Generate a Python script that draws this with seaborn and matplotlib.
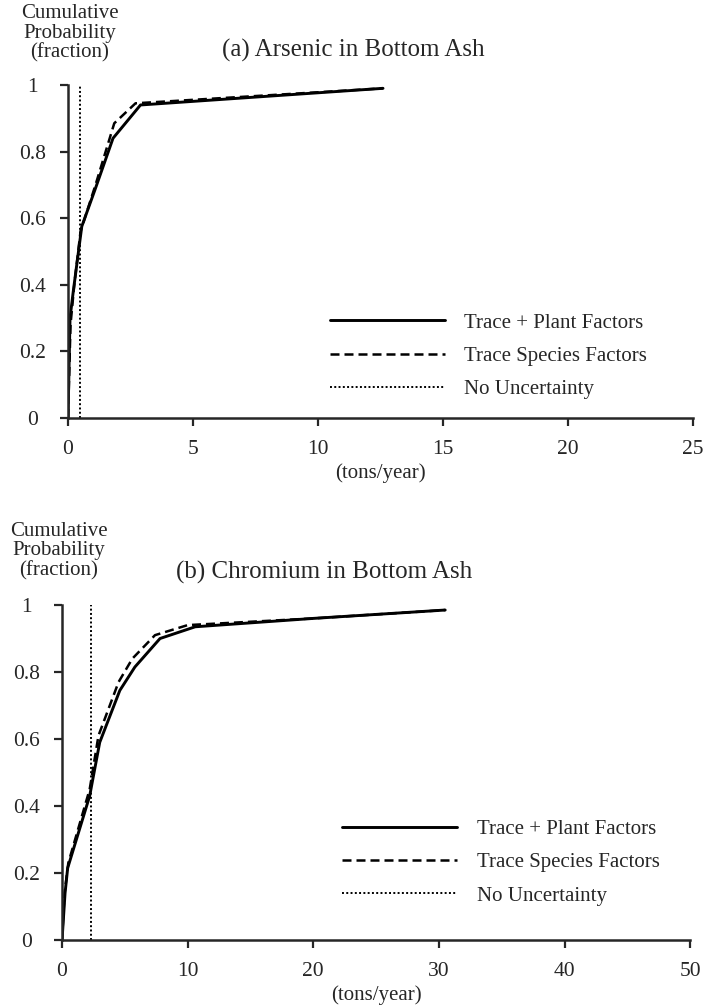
import matplotlib
matplotlib.use("Agg")
import matplotlib.pyplot as plt
import seaborn as sns
import pandas as pd

# (a) Arsenic in bottom ash, tons/year vs cumulative probability
as_plant_x = [0.0, 0.08, 0.21, 0.55, 1.1, 1.8, 2.9, 12.6]
as_plant_y = [0.0, 0.30, 0.38, 0.575, 0.69, 0.84, 0.94, 0.99]
as_species_x = [0.0, 0.1, 0.25, 0.5, 1.1, 1.85, 2.7, 12.6]
as_species_y = [0.0, 0.28, 0.40, 0.56, 0.70, 0.885, 0.945, 0.99]
as_point_x = [0.46, 0.46]
as_point_y = [0.0, 1.0]

# (b) Chromium in bottom ash
cr_plant_x = [0.0, 0.24, 0.45, 2.2, 3.0, 4.6, 5.8, 7.8, 10.6, 20.0, 30.5]
cr_plant_y = [0.0, 0.14, 0.215, 0.43, 0.59, 0.745, 0.815, 0.90, 0.935, 0.96, 0.985]
cr_species_x = [0.0, 0.2, 0.5, 2.2, 2.9, 4.5, 5.6, 7.4, 10.0, 20.0, 30.5]
cr_species_y = [0.0, 0.14, 0.23, 0.45, 0.61, 0.77, 0.84, 0.91, 0.94, 0.96, 0.985]
cr_point_x = [2.3, 2.3]
cr_point_y = [0.0, 1.0]

labels = ["Trace + Plant Factors", "Trace Species Factors", "No Uncertainty"]
yticks = [0, 0.2, 0.4, 0.6, 0.8, 1]

sns.set_style("ticks")
plt.rcParams["font.family"] = ["Liberation Serif", "DejaVu Serif"]
plt.rcParams["axes.linewidth"] = 1.8
plt.rcParams["xtick.major.width"] = 1.6
plt.rcParams["ytick.major.width"] = 1.6
plt.rcParams["xtick.major.size"] = 5.8
plt.rcParams["ytick.major.size"] = 5.8

fig = plt.figure(figsize=(7.13, 10.07), dpi=100)


def fmt(v):
    return f"{v:g}"


def panel(rect, title, title_xy, ylab_xy, xs, ys, xmax, xticks, legend_xy):
    ax = fig.add_axes(rect)
    styles = [("-", 2.1), ((0, (3.6, 2.0)), 1.8), ((0, (1, 1.2)), 1.4)]
    for (x, y), lab, (ls, lw) in zip(zip(xs, ys), labels, styles):
        d = pd.DataFrame({"x": x, "y": y})
        sns.lineplot(data=d, x="x", y="y", ax=ax, color="black", linestyle=ls,
                     linewidth=lw, label=lab, sort=False, estimator=None)
    ax.set_xlim(0, xmax)
    ax.set_ylim(0, 1)
    ax.set_xticks(xticks)
    ax.set_xticklabels([fmt(v) for v in xticks], fontsize=15.5)
    ax.set_yticks(yticks)
    ax.set_yticklabels([fmt(v) for v in yticks], fontsize=15.5)
    for lbl in ax.get_yticklabels():
        lbl.set_ha("center")
    ax.tick_params(axis="x", pad=10)
    ax.tick_params(axis="y", pad=20)
    ax.set_xlabel("")
    ax.set_ylabel("")
    sns.despine(ax=ax)
    ax.spines["left"].set_bounds(0, 1)
    ax.text(0.5, -0.135, "(tons/year)", transform=ax.transAxes,
            ha="center", va="top", fontsize=15)
    fig.text(title_xy[0], title_xy[1], title, ha="center", va="center", fontsize=18)
    fig.text(ylab_xy[0], ylab_xy[1], "Cumulative\nProbability\n(fraction)",
             ha="center", va="top", fontsize=15, linespacing=1.05)
    ax.legend(loc="upper left", bbox_to_anchor=legend_xy,
              bbox_transform=fig.transFigure, frameon=False, fontsize=15,
              handlelength=5.5, handletextpad=0.95, labelspacing=0.65,
              borderpad=0, borderaxespad=0)
    return ax


panel([0.0954, 0.585, 0.8766, 0.3306], "(a) Arsenic in Bottom Ash", (0.495, 0.950),
      (0.098, 0.996),
      [as_plant_x, as_species_x, as_point_x], [as_plant_y, as_species_y, as_point_y],
      25, [0, 5, 10, 15, 20, 25], (0.463, 0.689))

panel([0.087, 0.0665, 0.881, 0.3327], "(b) Chromium in Bottom Ash", (0.455, 0.432),
      (0.082, 0.482),
      [cr_plant_x, cr_species_x, cr_point_x], [cr_plant_y, cr_species_y, cr_point_y],
      50, [0, 10, 20, 30, 40, 50], (0.480, 0.186))

fig.savefig("out.png", dpi=100)
